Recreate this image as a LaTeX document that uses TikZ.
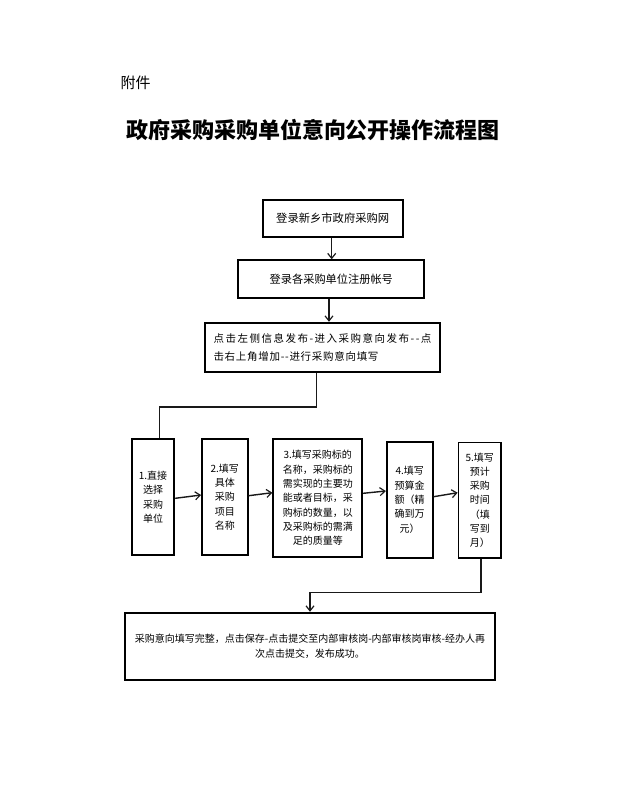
\documentclass[tikz,border=0pt]{standalone}
\usepackage{fontspec}
\newfontfamily\cjk{Noto Sans CJK SC}
\usetikzlibrary{arrows.meta}
\def\distline#1#2{\makebox[#1][s]{\distfirst#2\relax}}
\def\distfirst#1{#1\distrest}
\def\distrest#1{\ifx#1\relax\else\hfill#1\expandafter\distrest\fi}
\begin{document}
\begin{tikzpicture}[x=1pt,y=-1pt,
  box/.style={draw=black, line width=1.8pt, inner sep=0pt, align=center,
    font=\cjk\fontsize{10}{14.3}\selectfont},
  conn/.style={line width=1.4pt, draw=black!90},
  arr/.style={conn, -{Straight Barb[length=5pt,width=8pt,line width=1.2pt]}}]
\useasboundingbox[fill=white] (0,0) rectangle (630,788);

\node[anchor=west, font=\cjk\fontsize{15}{18}\selectfont] (fj) at (117,83) {附件};
\node[font=\cjk\bfseries\fontsize{22}{26}\selectfont] (title) at (313,130) {政府采购采购单位意向公开操作流程图};

\node[box, minimum width=140pt, minimum height=36.7pt, font=\cjk\fontsize{11.3}{14}\selectfont] (t1) at (332.7,218.3) {登录新乡市政府采购网};
\node[box, minimum width=186pt, minimum height=38pt, font=\cjk\fontsize{11.2}{14}\selectfont] (t2) at (331.3,279.2) {登录各采购单位注册帐号};
\node[box, minimum width=235pt, minimum height=49pt, align=left, font=\cjk\fontsize{10.5}{18}\selectfont] (t3) at (322.5,347.2)
  {\distline{218pt}{点击左侧信息发布-进入采购意向发布--点}\\\distline{165pt}{击右上角增加--进行采购意向填写}};

\node[box, minimum width=42.6pt, minimum height=115.7pt] (b1) at (153,497.2) {1.直接\\选择\\采购\\单位};
\node[box, minimum width=45.6pt, minimum height=115.7pt] (b2) at (224.8,497.2) {2.填写\\具体\\采购\\项目\\名称};
\node[box, minimum width=89pt, minimum height=117.4pt] (b3) at (317.8,498) {3.填写采购标的\\名称，采购标的\\需实现的主要功\\能或者目标，采\\购标的数量，以\\及采购标的需满\\足的质量等};
\node[box, minimum width=46pt, minimum height=116pt] (b4) at (409.7,499.7) {4.填写\\预算金\\额（精\\确到万\\元）};
\node[box, minimum width=42.5pt, minimum height=115.5pt] (b5) at (479.8,500.2) {5.填写\\预计\\采购\\时间\\（填\\写到\\月）};

\node[box, minimum width=370pt, minimum height=67.3pt, font=\cjk\fontsize{10}{15}\selectfont] (fin) at (310,646.3)
  {采购意向填写完整，点击保存-点击提交至内部审核岗-内部审核岗审核-经办人再\\次点击提交，发布成功。};

\draw[arr] ([xshift=-1pt]t1.south) -- ([xshift=-1pt]t1.south |- t2.north);
\draw[arr] ([xshift=-2.3pt]t2.south) -- ([xshift=-2.3pt]t2.south |- t3.north);
\draw[conn] ([xshift=-5.8pt]t3.south) -- ++(0,34.3) -| ([xshift=6.3pt]b1.north);

\draw[arr] ([yshift=-1.1pt]b1.east) -- ([yshift=2.2pt]b2.west);
\draw[arr] ([yshift=1.5pt]b2.east) -- ([yshift=5.3pt]b3.west);
\draw[arr] ([yshift=4.7pt]b3.east) -- ([yshift=8.7pt]b4.west);
\draw[arr] ([yshift=3pt]b4.east) -- ([yshift=7.5pt]b5.west);

\draw[arr] ([xshift=1.2pt]b5.south) -- ++(0,33.7) -| (fin.north);
\end{tikzpicture}
\end{document}
